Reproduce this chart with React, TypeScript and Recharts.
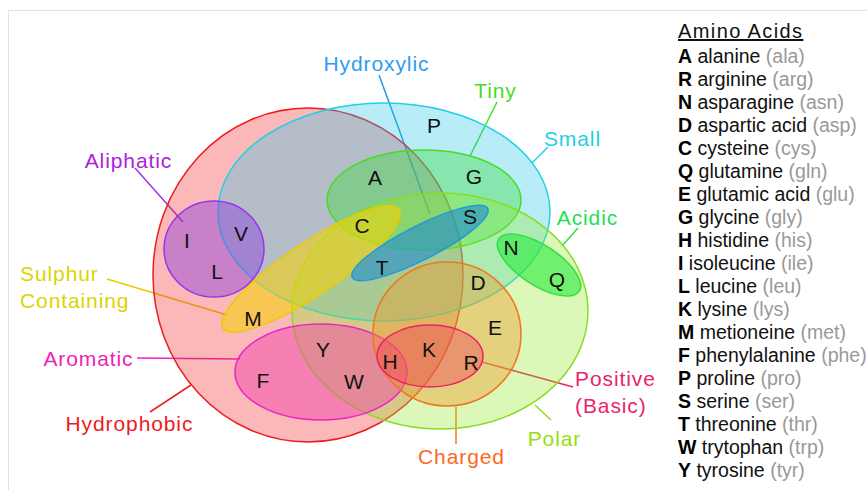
import React from "react";
import { ReferenceLine, Scatter, ScatterChart, XAxis, YAxis } from "recharts";

// chart space is the picture itself: x 0..867 to the right, y 0..490 downwards
const W = 867;
const H = 490;

// the sets (ellipses), in drawing order
const SETS = [
  "Hydrophobic",
  "Small",
  "Tiny",
  "Polar",
  "Sulphur Containing",
  "Aliphatic",
  "Aromatic",
  "Charged",
  "Positive (Basic)",
  "Hydroxylic",
  "Acidic",
];
const SET_X = [308, 384, 424, 440, 311, 214, 321, 447, 430, 420, 539];
const SET_Y = [275, 212, 200, 311, 269, 249, 372, 334, 356, 243, 265];
const SET_RX = [155, 166, 97, 148, 106, 50, 86, 74, 53, 76, 48];
const SET_RY = [167, 109, 50, 118, 26, 48, 48, 72, 31, 17, 20];
const SET_TILT = [0, 0, 0, 0, -34, 0, 0, 0, 0, -27, 33];

// set captions and their leader lines
const LABEL_X = [129, 572, 495, 554, 20, 128, 88, 461, 575, 376, 587];
const LABEL_Y = [423, 138, 90, 438, 273, 160, 358, 456, 378, 63, 217];
const LEADER_X1 = [150, 548, 497, 551, 107, 135, 137, 456, 573, 379, 578];
const LEADER_Y1 = [412, 147, 102, 420, 279, 168, 358, 407, 387, 75, 228];
const LEADER_X2 = [191, 532, 470, 535, 227, 183, 240, 456, 482, 430, 562];
const LEADER_Y2 = [385, 163, 156, 405, 315, 222, 359, 444, 362, 214, 246];

// amino acid letters placed inside the diagram
const LETTERS = ["P", "A", "G", "C", "S", "I", "V", "L", "T", "N", "Q", "D", "M", "E", "Y", "K", "H", "R", "F", "W"];
const LETTER_X = [434, 375, 474, 362, 470, 187, 241, 217, 382, 511, 557, 478, 253, 495, 323, 429, 390, 471, 263, 354];
const LETTER_Y = [125, 177, 176, 225, 216, 240, 233, 271, 267, 247, 279, 282, 318, 327, 349, 349, 361, 362, 380, 381];

// legend
const CODES = ["A", "R", "N", "D", "C", "Q", "E", "G", "H", "I", "L", "K", "M", "F", "P", "S", "T", "W", "Y"];
const NAMES = [
  "alanine", "arginine", "asparagine", "aspartic acid", "cysteine", "glutamine", "glutamic acid",
  "glycine", "histidine", "isoleucine", "leucine", "lysine", "metioneine", "phenylalanine",
  "proline", "serine", "threonine", "trytophan", "tyrosine",
];
const ABBR = [
  "ala", "arg", "asn", "asp", "cys", "gln", "glu", "gly", "his", "ile", "leu", "lys", "met",
  "phe", "pro", "ser", "thr", "trp", "tyr",
];

const SET_STYLE: Record<string, { fill: string; stroke: string; text: string; lines: string[]; anchor: string }> = {
  Hydrophobic: { fill: "rgba(240,40,40,0.33)", stroke: "#ee1c1c", text: "#ee1c1c", lines: ["Hydrophobic"], anchor: "middle" },
  Small: { fill: "rgba(40,200,235,0.33)", stroke: "#22d0e6", text: "#22d0e6", lines: ["Small"], anchor: "middle" },
  Tiny: { fill: "rgba(60,220,60,0.4)", stroke: "#44dd22", text: "#44dd22", lines: ["Tiny"], anchor: "middle" },
  Polar: { fill: "rgba(150,235,40,0.33)", stroke: "#88dd22", text: "#99dd11", lines: ["Polar"], anchor: "middle" },
  "Sulphur Containing": { fill: "rgba(250,210,0,0.55)", stroke: "#e8cc00", text: "#dcd400", lines: ["Sulphur", "Containing"], anchor: "start" },
  Aliphatic: { fill: "rgba(140,60,220,0.45)", stroke: "#9933ee", text: "#aa22dd", lines: ["Aliphatic"], anchor: "middle" },
  Aromatic: { fill: "rgba(245,60,170,0.45)", stroke: "#ee22cc", text: "#ee22bb", lines: ["Aromatic"], anchor: "middle" },
  Charged: { fill: "rgba(240,150,40,0.4)", stroke: "#ee7722", text: "#ff6622", lines: ["Charged"], anchor: "middle" },
  "Positive (Basic)": { fill: "rgba(240,60,90,0.4)", stroke: "#ee2266", text: "#ee2266", lines: ["Positive", "(Basic)"], anchor: "start" },
  Hydroxylic: { fill: "rgba(30,140,210,0.6)", stroke: "#2299dd", text: "#2a9df4", lines: ["Hydroxylic"], anchor: "middle" },
  Acidic: { fill: "rgba(40,235,60,0.6)", stroke: "#33dd44", text: "#22e055", lines: ["Acidic"], anchor: "middle" },
};

const FONT = "'Liberation Sans', Arial, sans-serif";

const setData = SETS.map((name, i) => ({
  name,
  x: SET_X[i],
  y: SET_Y[i],
  rx: SET_RX[i],
  ry: SET_RY[i],
  tilt: SET_TILT[i],
}));
const labelData = SETS.map((name, i) => ({ name, x: LABEL_X[i], y: LABEL_Y[i] }));
const letterData = LETTERS.map((name, i) => ({ name, x: LETTER_X[i], y: LETTER_Y[i] }));

// pixels per data unit (plot area spans the whole chart)
const SX = W / W;
const SY = H / H;

const EllipseShape = (props: any) => {
  const { cx, cy, payload } = props;
  const st = SET_STYLE[payload.name];
  return (
    <ellipse
      cx={cx}
      cy={cy}
      rx={payload.rx * SX}
      ry={payload.ry * SY}
      transform={`rotate(${payload.tilt} ${cx} ${cy})`}
      fill={st.fill}
      stroke={st.stroke}
      strokeWidth={1.5}
    />
  );
};

const LabelShape = (props: any) => {
  const { cx, cy, payload } = props;
  const st = SET_STYLE[payload.name];
  const sp = 0.9;
  // letter spacing adds a trailing gap, nudge centred captions back
  const x0 = st.anchor === "middle" ? cx + sp / 2 : cx;
  return (
    <text
      x={x0}
      y={cy}
      fill={st.text}
      fontSize={21}
      letterSpacing={sp}
      fontFamily={FONT}
      textAnchor={st.anchor as any}
      dominantBaseline="central"
    >
      {st.lines.map((ln, k) => (
        <tspan key={k} x={x0} dy={k === 0 ? 0 : 27}>
          {ln}
        </tspan>
      ))}
    </text>
  );
};

const LetterShape = (props: any) => {
  const { cx, cy, payload } = props;
  return (
    <text x={cx} y={cy} fill="#111" fontSize={21} fontFamily={FONT} textAnchor="middle" dominantBaseline="central">
      {payload.name}
    </text>
  );
};

export default function App() {
  return (
    <div style={{ position: "absolute", left: 0, top: 0, width: W, height: H, background: "#fff", fontFamily: FONT }}>
      <div
        style={{
          position: "absolute",
          left: 8,
          top: 10,
          right: 0,
          bottom: 0,
          borderTop: "1px solid #e2e2e2",
          borderLeft: "1px solid #e2e2e2",
        }}
      />
      <div style={{ position: "absolute", left: 0, top: 0 }}>
        <ScatterChart width={W} height={H} margin={{ top: 0, right: 0, bottom: 0, left: 0 }}>
          <XAxis type="number" dataKey="x" domain={[0, W]} hide allowDataOverflow />
          <YAxis type="number" dataKey="y" domain={[0, H]} reversed hide allowDataOverflow />
          <Scatter data={setData} shape={EllipseShape} isAnimationActive={false} />
          {SETS.map((name, i) => (
            <ReferenceLine
              key={name}
              segment={[
                { x: LEADER_X1[i], y: LEADER_Y1[i] },
                { x: LEADER_X2[i], y: LEADER_Y2[i] },
              ]}
              stroke={SET_STYLE[name].stroke}
              strokeWidth={1.5}
              ifOverflow="visible"
            />
          ))}
          <Scatter data={labelData} shape={LabelShape} isAnimationActive={false} />
          <Scatter data={letterData} shape={LetterShape} isAnimationActive={false} />
        </ScatterChart>
      </div>
      <div style={{ position: "absolute", left: 678, top: 20, fontSize: 19.5, color: "#111", lineHeight: "23px" }}>
        <div style={{ textDecoration: "underline", fontSize: 20, letterSpacing: 1.4, marginBottom: 2 }}>Amino Acids</div>
        {CODES.map((c, i) => (
          <div key={c} style={{ whiteSpace: "nowrap" }}>
            <b style={{ color: "#000" }}>{c}</b> {NAMES[i]} <span style={{ color: "#999" }}>({ABBR[i]})</span>
          </div>
        ))}
      </div>
    </div>
  );
}
